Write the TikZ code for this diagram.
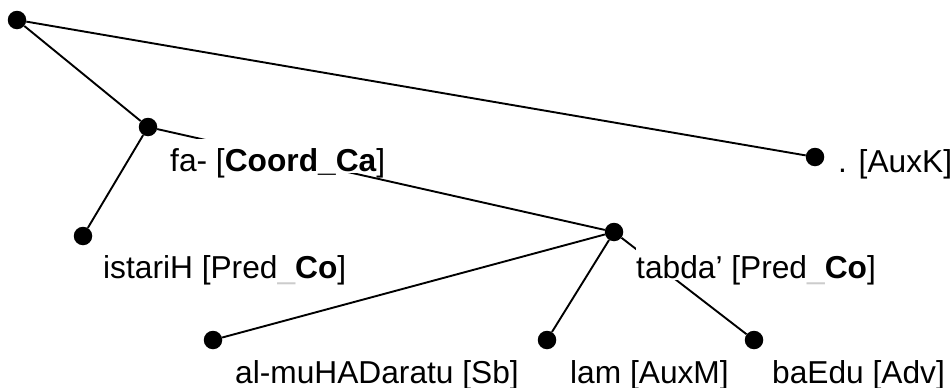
\documentclass[tikz,border=0pt]{standalone}
\usepackage{fontspec}
\setmainfont{Liberation Sans}
\begin{document}
\begin{tikzpicture}[x=1pt,y=-1pt,
  dot/.style={circle,fill=black,inner sep=0pt,minimum size=18.5pt},
  edge/.style={line width=1.9pt},
  lab/.style={anchor=base west,fill=white,inner xsep=0pt,inner ysep=0pt,
    text height=32pt,text depth=2pt,font=\fontsize{31.7}{37}\selectfont},
  ]
\useasboundingbox (0,0) rectangle (951,388);
% dots
\node[dot] (root) at (17,20) {};
\node[dot] (fa) at (148,127) {};
\node[dot] (auxk) at (815,157) {};
\node[dot] (ist) at (83,236) {};
\node[dot] (tab) at (614,232) {};
\node[dot] (alm) at (213,340) {};
\node[dot] (lam) at (547,340) {};
\node[dot] (bae) at (754,340) {};
% edges
\draw[edge] (root) -- (fa);
\draw[edge] (root) -- (auxk);
\draw[edge] (fa) -- (ist);
\draw[edge] (fa) -- (tab);
\draw[edge] (tab) -- (alm);
\draw[edge] (tab) -- (lam);
\draw[edge] (tab) -- (bae);
% labels
\node[lab] (lfa) at (170,171) {fa- [\textbf{Coord\_Ca}]};
\node[lab] (lauxk) at (838,172) {. [AuxK]};
\node[lab] (list) at (103,278) {istariH [Pred\textcolor{black!20}{\_}\textbf{Co}]};
\node[lab] (ltab) at (636,278) {tabda’ [Pred\textcolor{black!20}{\_}\textbf{Co}]};
\node[lab] (lalm) at (235,383) {al-muHADaratu [Sb]};
\node[lab] (llam) at (570,383) {lam [AuxM]};
\node[lab] (lbae) at (772,383) {baEdu [Adv]};
\end{tikzpicture}
\end{document}
